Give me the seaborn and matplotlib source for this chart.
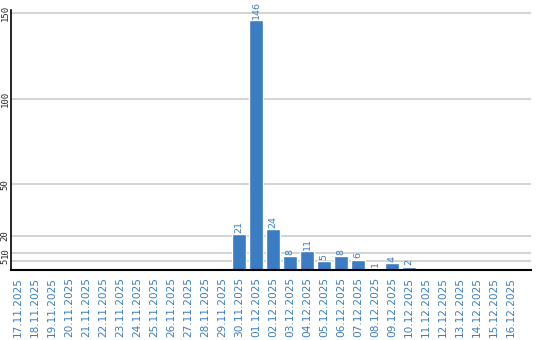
import matplotlib
matplotlib.use("Agg")
import matplotlib.pyplot as plt
import seaborn as sns
import pandas as pd

dates = ["17.11.2025", "18.11.2025", "19.11.2025", "20.11.2025", "21.11.2025",
         "22.11.2025", "23.11.2025", "24.11.2025", "25.11.2025", "26.11.2025",
         "27.11.2025", "28.11.2025", "29.11.2025", "30.11.2025", "01.12.2025",
         "02.12.2025", "03.12.2025", "04.12.2025", "05.12.2025", "06.12.2025",
         "07.12.2025", "08.12.2025", "09.12.2025", "10.12.2025", "11.12.2025",
         "12.12.2025", "13.12.2025", "14.12.2025", "15.12.2025", "16.12.2025"]
values = [0, 0, 0, 0, 0, 0, 0, 0, 0, 0, 0, 0, 0, 21, 146, 24, 8, 11, 5, 8, 6, 1, 4, 2,
          0, 0, 0, 0, 0, 0]
yticks = [5, 10, 20, 50, 100, 150]

df = pd.DataFrame({"date": dates, "value": values})

sns.set_style("white")
plt.rcParams["font.family"] = ["DejaVu Sans"]

blue = "#3a7dc2"
fig = plt.figure(figsize=(5.4, 3.4), dpi=100)
ax = fig.add_axes([11/540, 1 - 270/340, 520/540, 260/340])

for t in yticks:
    ax.axhline(t, color="#c8c8c8", linewidth=1.1, zorder=0)

sns.barplot(data=df, x="date", y="value", color=blue, width=0.84,
            saturation=1, ax=ax, zorder=2)

labels = [str(v) if v > 0 else "" for v in values]
ax.bar_label(ax.containers[0], labels=labels, rotation=90, padding=1,
             color=blue, fontsize=6.8)

ax.set_xlim(-0.41, 30.18)
ax.set_ylim(0, 152)
ax.set_yticks(yticks)
ax.set_yticklabels([str(t) for t in yticks], rotation=90,
                   family="DejaVu Sans Mono", fontsize=6.5)
ax.tick_params(axis="y", length=0, pad=1)
ax.tick_params(axis="x", length=0, pad=5)
for lab in ax.get_yticklabels():
    lab.set_va("center")
for lab in ax.get_xticklabels():
    lab.set_rotation(90)
    lab.set_color(blue)
    lab.set_fontsize(7.6)
ax.set_xlabel("")
ax.set_ylabel("")
for s in ["top", "right"]:
    ax.spines[s].set_visible(False)
ax.spines["left"].set_color("black")
ax.spines["left"].set_linewidth(1.2)
ax.spines["bottom"].set_color("black")
ax.spines["bottom"].set_linewidth(1.5)
ax.spines["left"].set_zorder(3)
ax.spines["bottom"].set_zorder(3)

fig.savefig("out.png", dpi=100)
